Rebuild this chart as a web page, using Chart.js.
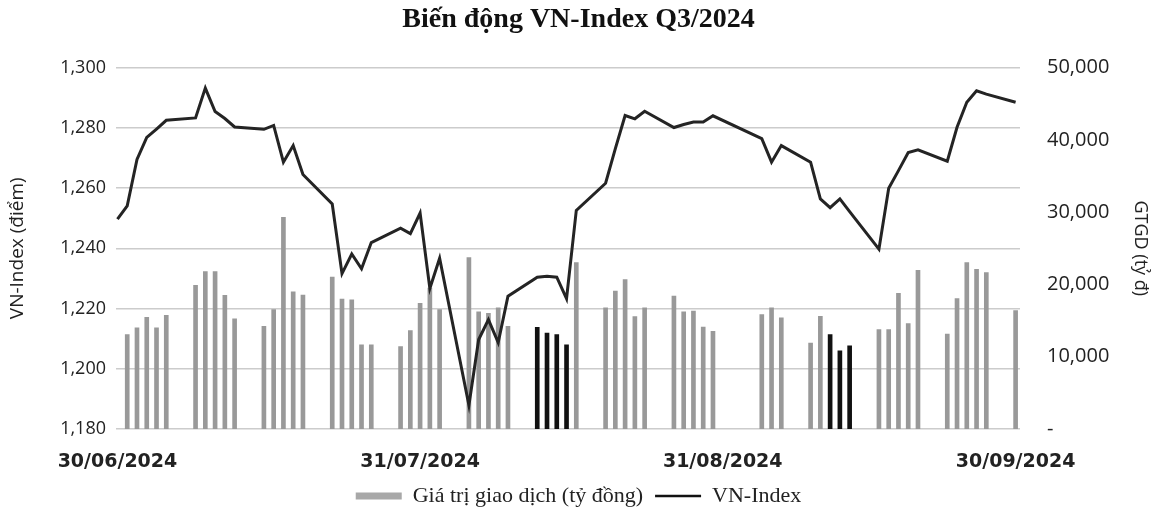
<!DOCTYPE html>
<html lang="vi">
<head>
<meta charset="utf-8">
<title>Biến động VN-Index Q3/2024</title>
<script src="https://cdn.jsdelivr.net/npm/chart.js@4.4.1/dist/chart.umd.min.js"></script>
<style>
  html, body { margin: 0; padding: 0; background: #fff; }
  #wrap { width: 1157px; height: 517px; position: relative; }
</style>
</head>
<body>
<div id="wrap"><canvas id="vnChart"></canvas></div>
<script>
// ngày giao dịch Q3/2024 (dd/mm)
const tradingDays = [
  '01/07','02/07','03/07','04/07','05/07',
  '08/07','09/07','10/07','11/07','12/07',
  '15/07','16/07','17/07','18/07','19/07',
  '22/07','23/07','24/07','25/07','26/07',
  '29/07','30/07','31/07','01/08','02/08',
  '05/08','06/08','07/08','08/08','09/08',
  '12/08','13/08','14/08','15/08','16/08',
  '19/08','20/08','21/08','22/08','23/08',
  '26/08','27/08','28/08','29/08','30/08',
  '04/09','05/09','06/09',
  '09/09','10/09','11/09','12/09','13/09',
  '16/09','17/09','18/09','19/09','20/09',
  '23/09','24/09','25/09','26/09','27/09',
  '30/09'
];

// giá trị giao dịch (tỷ đồng)
const gtgd = [
  13050, 13980, 15460, 13980, 15740,
  19880, 21770, 21770, 18480, 15230,
  14210, 16530, 29290, 18990, 18530,
  21030, 17970, 17870, 11660, 11660,
  11420, 13610, 17370, 19500, 16530,
  23720, 16200, 16000, 16760, 14210,
  14070, 13280, 13050, 11660, 23030,
  16760, 19090, 20660, 15560, 16760,
  18390, 16200, 16300, 14110, 13510,
  15840, 16760, 15370,
  11880, 15600, 13050, 10820, 11520,
  13750, 13750, 18760, 14580, 21960,
  13140, 18060, 23030, 22100, 21630,
  16390
];

// VN-Index: điểm đầu kỳ 30/06 + các phiên
const vnDates = ['30/06'].concat(tradingDays);
const vnIndex = [
  1249.7,
  1254.1, 1269.5, 1276.8, 1279.6, 1282.5,
  1283.3, 1293.2, 1285.4, 1283.1, 1280.3,
  1279.5, 1280.8, 1268.6, 1274.1, 1264.5,
  1254.7, 1231.6, 1238.1, 1233.2, 1241.9,
  1246.7, 1244.9, 1251.7, 1226.7, 1236.7,
  1187.9, 1209.7, 1216.3, 1208.7, 1224.1,
  1230.4, 1230.7, 1230.4, 1223.3, 1252.6,
  1261.6, 1273.1, 1284.1, 1283.0, 1285.5,
  1280.1, 1281.1, 1281.9, 1281.9, 1284.0,
  1276.4, 1268.6, 1274.1,
  1268.6, 1256.4, 1253.5, 1256.4, 1252.2,
  1239.7, 1259.9, 1265.8, 1271.8, 1272.7,
  1268.9, 1280.2, 1288.5, 1292.3, 1291.2,
  1288.5
];

// các phiên cột tô đậm
const darkBarDays = ['12/08','13/08','14/08','15/08','11/09','12/09','13/09'];

const xTickLabels = ['30/06/2024', '31/07/2024', '31/08/2024', '30/09/2024'];

// số ngày tính từ 30/06/2024
function dayNo(s) {
    const p = s.split('/').map(Number);
    return (Date.UTC(2024, p[1] - 1, p[0]) - Date.UTC(2024, 5, 30)) / 86400000;
}

const xTickValues = xTickLabels.map(s => dayNo(s.slice(0, 5)));

const barPoints = tradingDays.map((d, i) => ({ x: dayNo(d), y: gtgd[i] }));
const linePoints = vnDates.map((d, i) => ({ x: dayNo(d), y: vnIndex[i] }));

const config = {
    type: 'bar',
    data: {
        datasets: [{
            type: 'bar',
            label: 'Giá trị giao dịch (tỷ đồng)',
            data: barPoints,
            yAxisID: 'y1',
            order: 2,
            barThickness: 4,
            backgroundColor: function(ctx) {
                return darkBarDays.includes(tradingDays[ctx.dataIndex]) ? '#111111' : '#999999';
            },
            borderWidth: 0
        }, {
            type: 'line',
            label: 'VN-Index',
            data: linePoints,
            yAxisID: 'y',
            order: 1,
            borderColor: '#242424',
            borderWidth: 3,
            tension: 0,
            pointRadius: 0,
            fill: false
        }]
    },
    options: {
        responsive: true,
        maintainAspectRatio: false,
        animation: false,
        layout: { padding: 0 },
        plugins: {
            title: {
                display: true,
                text: 'Biến động VN-Index Q3/2024',
                color: '#111',
                font: { family: 'Liberation Serif', size: 28, weight: 'bold' },
                padding: { top: 3, bottom: 31 }
            },
            legend: {
                position: 'bottom',
                labels: {
                    usePointStyle: true,
                    pointStyleWidth: 46,
                    boxWidth: 46,
                    boxHeight: 7,
                    padding: 12,
                    color: '#222',
                    font: { family: 'Liberation Serif', size: 22 },
                    sort: function(a, b) {
                        return a.datasetIndex - b.datasetIndex;
                    },
                    generateLabels: function(chart) {
                        const items = Chart.defaults.plugins.legend.labels.generateLabels(chart);
                        items.forEach(it => {
                            if (it.datasetIndex === 0) {
                                it.pointStyle = 'rect';
                                it.fillStyle = '#a8a8a8';
                                it.strokeStyle = '#a8a8a8';
                                it.lineWidth = 0;
                            } else {
                                it.pointStyle = 'line';
                                it.strokeStyle = '#111';
                                it.lineWidth = 2.5;
                            }
                        });
                        return items;
                    }
                }
            },
            tooltip: { enabled: false }
        },
        scales: {
            x: {
                type: 'linear',
                min: -0.15,
                max: 92.45,
                offset: false,
                grid: { display: false, offset: false },
                border: { display: false },
                afterBuildTicks: function(axis) {
                    axis.ticks = xTickValues.map(v => ({ value: v }));
                },
                afterFit: function(scale) {
                    scale.height = 44;
                },
                ticks: {
                    autoSkip: false,
                    maxRotation: 0,
                    padding: 14,
                    color: '#222',
                    font: { family: 'DejaVu Sans', size: 19, weight: 'bold' },
                    callback: function(value, index) {
                        return xTickLabels[index];
                    }
                }
            },
            y: {
                position: 'left',
                min: 1180,
                max: 1300,
                afterFit: function(scale) {
                    scale.width = 116;
                },
                ticks: {
                    stepSize: 20,
                    padding: 10,
                    color: '#222',
                    font: { family: 'Open Sans', size: 18 },
                    callback: function(value) {
                        return value.toLocaleString('en-US');
                    }
                },
                grid: {
                    color: '#cccccc',
                    lineWidth: 1.5,
                    drawTicks: false
                },
                border: { display: false },
                title: {
                    display: true,
                    text: 'VN-Index (điểm)',
                    color: '#222',
                    font: { family: 'Open Sans', size: 19 },
                    padding: { top: 6, bottom: 0 }
                }
            },
            y1: {
                position: 'right',
                min: 0,
                max: 50000,
                afterFit: function(scale) {
                    scale.width = 137;
                },
                ticks: {
                    stepSize: 10000,
                    padding: 27,
                    color: '#222',
                    font: { family: 'Open Sans', size: 20 },
                    callback: function(value) {
                        return value === 0 ? '-' : value.toLocaleString('en-US');
                    }
                },
                grid: { display: false, drawTicks: false },
                border: { display: false },
                title: {
                    display: true,
                    text: 'GTGD (tỷ đ)',
                    color: '#222',
                    font: { family: 'Open Sans', size: 18 },
                    padding: { top: 6, bottom: 0 }
                }
            }
        }
    }
};

new Chart(document.getElementById('vnChart').getContext('2d'), config);
</script>
</body>
</html>
